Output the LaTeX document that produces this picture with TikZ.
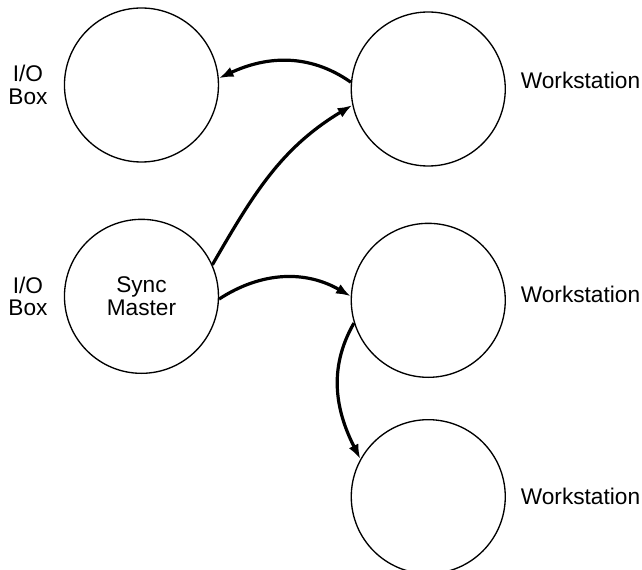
\documentclass[tikz,border=0pt]{standalone}
\usepackage{fontspec}
\setmainfont{Liberation Sans}
\usetikzlibrary{positioning}
\usetikzlibrary{arrows.meta}

\begin{document}
\begin{tikzpicture}[
        node distance=98.6pt,
        station/.style={circle, draw, line width=1pt, minimum size=115.5pt, inner sep=0pt,
                        align=center, font=\fontsize{17}{17.5}\selectfont},
        tag/.style={inner sep=0pt, align=center, font=\fontsize{17}{17}\selectfont},
        link/.style={-{Latex[length=11pt,width=8pt]}, line width=2.4pt}
    ]
        \useasboundingbox (-106.1pt,63.75pt) rectangle (375.4pt,-363.75pt);
        \node[station] (io) {};
        \node[station, right=of io, yshift=-3pt] (ws1) {};
        \node[station, below=42pt of io] (sync) {Sync\\Master};
        \node[station, right=of sync, yshift=-3pt] (ws2) {};
        \node[station, below=30.75pt of ws2] (ws3) {};

        \node[tag, left=12pt of io] (iotag) {I/O\\Box};
        \node[tag, left=12pt of sync] (synctag) {I/O\\Box};
        \node[tag, right=11pt of ws1, yshift=6.75pt] (ws1tag) {Workstation};
        \node[tag, right=11pt of ws2, yshift=4.5pt] (ws2tag) {Workstation};
        \node[tag, right=11pt of ws3] (ws3tag) {Workstation};

        \draw[link] (ws1.175) to[out=145, in=25] (io.5);
        \draw[link] (sync.24) to[out=60, in=211] (ws1.192);
        \draw[link] (sync.-2) to[out=33, in=150] (ws2.177);
        \draw[link] (ws2.197) to[out=240, in=117] (ws3.151);
    \end{tikzpicture}
\end{document}
